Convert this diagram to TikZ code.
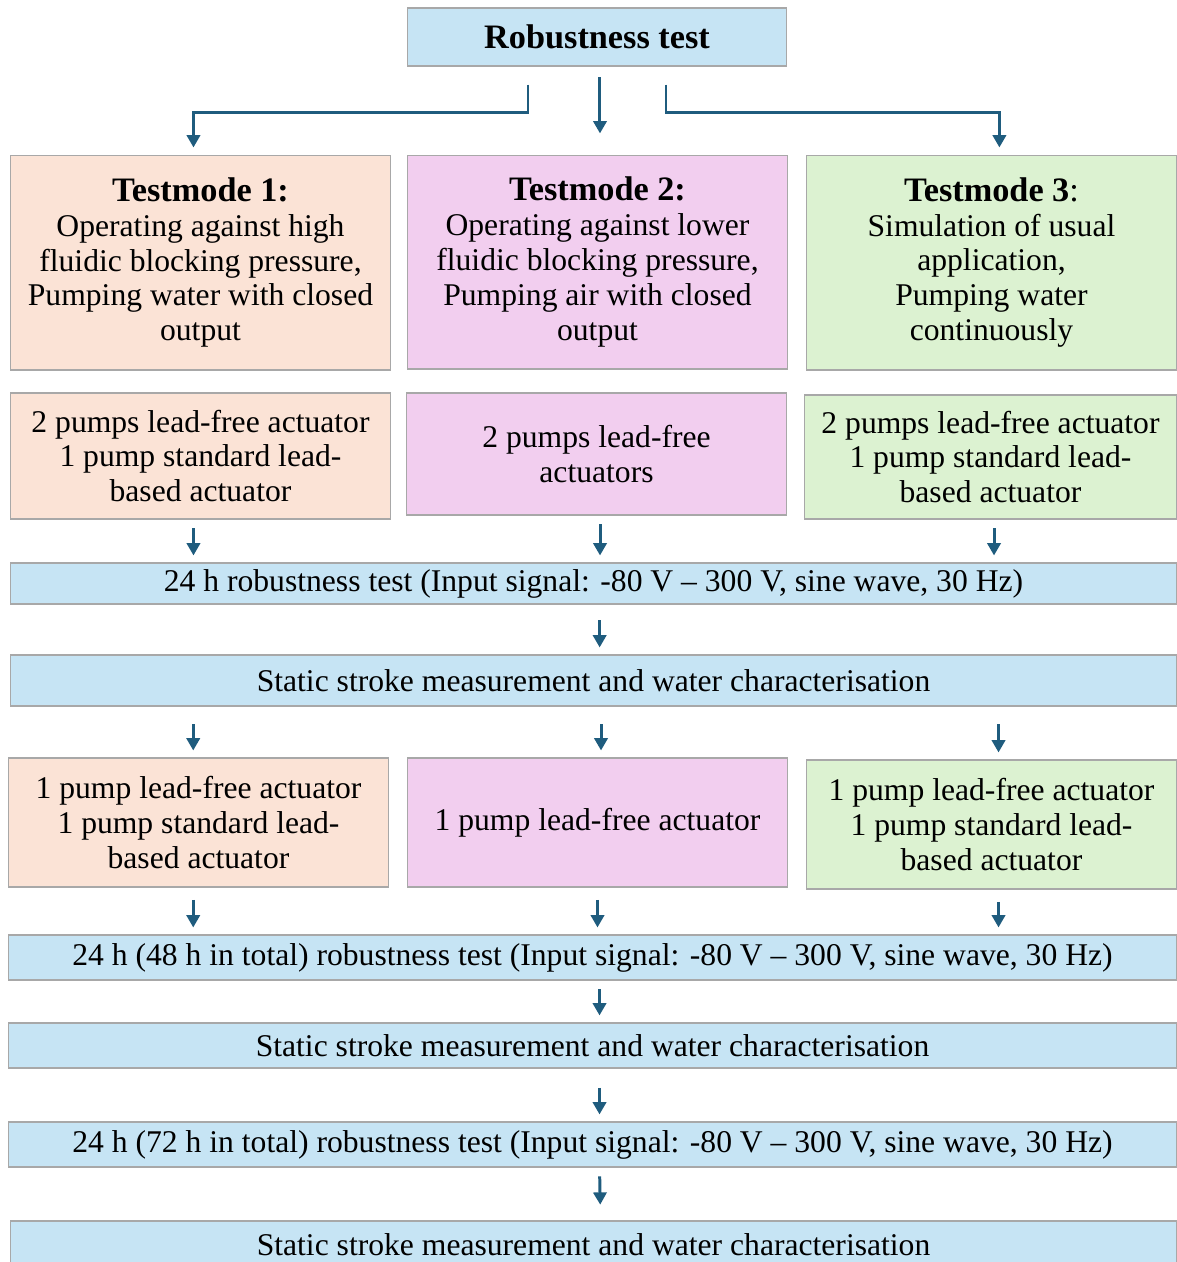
\documentclass[tikz,border=0pt]{standalone}
\usepackage{fontspec}
\setmainfont{Liberation Serif}
\usetikzlibrary{arrows.meta}
\definecolor{barblue}{HTML}{C6E4F4}
\definecolor{peach}{HTML}{FBE3D6}
\definecolor{pink}{HTML}{F2CEEF}
\definecolor{lgreen}{HTML}{DCF2D1}
\definecolor{boxline}{HTML}{A8A8A8}
\definecolor{arrowblue}{HTML}{1F5C7E}
\newcommand{\hd}[1]{{\fontsize{19.5}{19.8}\selectfont\bfseries #1}}
\begin{document}
\begin{tikzpicture}[x=0.02cm,y=-0.02cm]
        \tikzstyle{every node}+=[draw=boxline, line width=0.6pt, inner sep=0pt, align=center, font=\fontsize{18}{19.8}\selectfont]
        \tikzstyle{arr}=[draw=arrowblue, line width=1.7pt, -{Triangle[width=7.5pt,length=7pt]}, shorten <=5pt, shorten >=4pt]
        \useasboundingbox (0,0) rectangle (1177,1262);
        % top box
        \node [fill=barblue, minimum width=7.6cm, minimum height=1.16cm] (top) at (597,37) {\hd{Robustness test}};
        % test modes
        \node [fill=peach, minimum width=7.62cm, minimum height=4.3cm] (tm1) at (200.5,262.5) {\hd{Testmode 1:}\\Operating against high\\fluidic blocking pressure,\\Pumping water with closed\\output};
        \node [fill=pink, minimum width=7.62cm, minimum height=4.28cm] (tm2) at (597.5,262) {\hd{Testmode 2:}\\Operating against lower\\fluidic blocking pressure,\\Pumping air with closed\\output};
        \node [fill=lgreen, minimum width=7.42cm, minimum height=4.3cm] (tm3) at (991.5,262.5) {\hd{Testmode 3}{\fontsize{19.5}{19.8}\selectfont:}\\Simulation of usual\\application,\\Pumping water\\continuously};
        % first pump selection
        \node [fill=peach, minimum width=7.62cm, minimum height=2.52cm] (p1) at (200.5,456) {2 pumps lead-free actuator\\1 pump standard lead-\\based actuator};
        \node [fill=pink, minimum width=7.62cm, minimum height=2.44cm] (p2) at (596.5,454) {2 pumps lead-free\\actuators};
        \node [fill=lgreen, minimum width=7.46cm, minimum height=2.48cm] (p3) at (990.5,457) {2 pumps lead-free actuator\\1 pump standard lead-\\based actuator};
        \node [fill=barblue, minimum width=23.34cm, minimum height=0.82cm] (bar1) at (593.5,583.5) {24 h robustness test (Input signal: -80 V -- 300 V, sine wave, 30 Hz)};
        \node [fill=barblue, minimum width=23.34cm, minimum height=1.02cm] (st1) at (593.5,680.5) {Static stroke measurement and water characterisation};
        % second pump selection
        \node [fill=peach, minimum width=7.62cm, minimum height=2.58cm] (q1) at (198.5,822.5) {1 pump lead-free actuator\\1 pump standard lead-\\based actuator};
        \node [fill=pink, minimum width=7.62cm, minimum height=2.58cm] (q2) at (597.5,822.5) {1 pump lead-free actuator};
        \node [fill=lgreen, minimum width=7.42cm, minimum height=2.58cm] (q3) at (991.5,824.5) {1 pump lead-free actuator\\1 pump standard lead-\\based actuator};
        \node [fill=barblue, minimum width=23.38cm, minimum height=0.9cm] (bar2) at (592.5,957.5) {24 h (48 h in total) robustness test (Input signal: -80 V -- 300 V, sine wave, 30 Hz)};
        \node [fill=barblue, minimum width=23.38cm, minimum height=0.9cm] (st2) at (592.5,1045.5) {Static stroke measurement and water characterisation};
        \node [fill=barblue, minimum width=23.38cm, minimum height=0.9cm] (bar3) at (592.5,1144.5) {24 h (72 h in total) robustness test (Input signal: -80 V -- 300 V, sine wave, 30 Hz)};
        \node [fill=barblue, minimum width=23.34cm, minimum height=0.96cm] (st3) at (593.5,1245) {Static stroke measurement and water characterisation};
        % arrows from the top box
        \draw [arr, shorten <=0pt] ([shift={(-69,18)}]top.south) -- ++(0,28) -| ([xshift=-4pt]tm1.north);
        \draw [arr, shorten <=6pt, shorten >=12pt] ([xshift=1.7pt]top.south) -- ([xshift=1.7pt]top.south |- tm2.north);
        \draw [arr, shorten <=0pt] ([shift={(69,18)}]top.south) -- ++(0,28) -| ([xshift=4.5pt]tm3.north);
        % arrows down the columns
        \draw [arr] ([xshift=-4pt]p1.south) -- ([xshift=-4pt]p1.south |- bar1.north);
        \draw [arr] ([xshift=2pt]p2.south) -- ([xshift=2pt]p2.south |- bar1.north);
        \draw [arr] ([xshift=2pt]p3.south) -- ([xshift=2pt]p3.south |- bar1.north);
        \draw [arr, shorten <=9pt] ([xshift=3.5pt]bar1.south) -- ([xshift=3.5pt]st1.north);
        \draw [arr, shorten <=10pt] ([xshift=-3pt]q1.north |- st1.south) -- ([xshift=-3pt]q1.north);
        \draw [arr, shorten <=10pt] ([xshift=2pt]q2.north |- st1.south) -- ([xshift=2pt]q2.north);
        \draw [arr, shorten <=10pt] ([xshift=4pt]q3.north |- st1.south) -- ([xshift=4pt]q3.north);
        \draw [arr, shorten <=7pt] ([xshift=-3pt]q1.south) -- ([xshift=-3pt]q1.south |- bar2.north);
        \draw [arr, shorten <=7pt] (q2.south) -- (q2.south |- bar2.north);
        \draw [arr, shorten <=7pt] ([xshift=4pt]q3.south) -- ([xshift=4pt]q3.south |- bar2.north);
        \draw [arr] ([xshift=4pt]bar2.south) -- ([xshift=4pt]st2.north);
        \draw [arr, shorten <=11pt] ([xshift=4pt]st2.south) -- ([xshift=4pt]bar3.north);
        \draw [arr, shorten >=9pt] ([xshift=4pt]bar3.south) -- ([xshift=4pt]st3.north);
\end{tikzpicture}
\end{document}
